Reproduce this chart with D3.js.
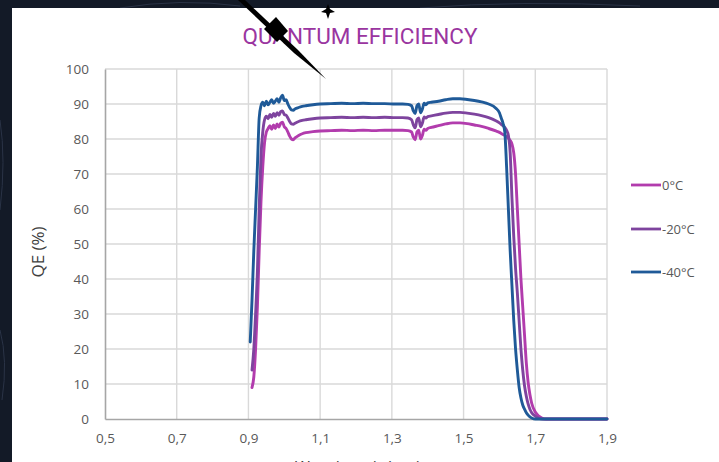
<!DOCTYPE html>
<html>
<head>
<meta charset="utf-8">
<script src="https://cdn.jsdelivr.net/npm/d3@7"></script>
<style>
  html, body { margin: 0; padding: 0; background: #131a27; }
  svg { display: block; }
</style>
</head>
<body>
<svg id="chart" width="719" height="462"></svg>
<script>
// Wavelength grid (µm)
const wavelength = [
  0.905, 0.91, 0.915, 0.92, 0.925, 0.93, 0.935, 0.94, 0.945, 0.95,
  0.955, 0.96, 0.965, 0.97, 0.975, 0.98, 0.985, 0.99, 0.995, 1.0,
  1.005, 1.01, 1.015, 1.02, 1.025, 1.03, 1.04, 1.05, 1.06, 1.08,
  1.10, 1.13, 1.16, 1.19, 1.22, 1.25, 1.28, 1.31, 1.33, 1.345,
  1.355, 1.36, 1.365, 1.37, 1.375, 1.38, 1.385, 1.39, 1.395, 1.40,
  1.41, 1.43, 1.45, 1.47, 1.49, 1.51, 1.53, 1.55, 1.57, 1.59,
  1.60, 1.605, 1.61, 1.615, 1.62, 1.625, 1.63, 1.635, 1.64, 1.645,
  1.65, 1.655, 1.66, 1.665, 1.67, 1.675, 1.68, 1.685, 1.69, 1.70,
  1.71, 1.72, 1.73, 1.75, 1.80, 1.85, 1.90
];

// QE (%) at 0 °C
const qe0 = [
  null, 9, 12, 20, 32, 48, 62, 72, 79, 82,
  83, 83.8, 82.8, 84, 83, 84.3, 83.4, 84.5, 84.8, 83.5,
  83, 82, 80.8, 80, 79.8, 80.3, 81, 81.5, 81.8, 82.1,
  82.3, 82.4, 82.5, 82.4, 82.5, 82.4, 82.5, 82.5, 82.5, 82.4,
  82, 80.5, 79.8, 82, 82.5, 80, 81, 82.8, 82.5, 83,
  83.3, 83.8, 84.3, 84.6, 84.6, 84.4, 84, 83.6, 83, 82.3,
  81.9, 81.6, 81.3, 81, 80.6, 80.2, 79.6, 78.5, 76, 70,
  60, 50, 40, 32, 24, 16, 10.5, 7, 4.5, 2,
  0.8, 0.2, 0, 0, 0, 0, 0
];

// QE (%) at -20 °C
const qe20 = [
  null, 14, 20, 30, 42, 60, 75, 82, 85.5, 86.5,
  85.8, 87, 86.2, 87.3, 86.5, 87.5, 86.8, 87.8, 88, 87,
  86.8, 86, 85, 84.3, 84.2, 84.5, 85, 85.3, 85.5, 85.8,
  86, 86.1, 86.2, 86.1, 86.2, 86.1, 86.2, 86.1, 86.1, 86,
  85.5, 84, 83.2, 85.5, 86, 83.5, 84.5, 86.3, 86, 86.4,
  86.6, 87, 87.4, 87.6, 87.6, 87.4, 87.1, 86.7, 86.1, 85.2,
  84.6, 84.2, 83.8, 83.3, 82.5, 81, 76, 63, 52, 43,
  36, 28, 20, 14, 9.5, 6.5, 4.3, 2.8, 1.8, 0.8,
  0.2, 0, 0, 0, 0, 0, 0
];

// QE (%) at -40 °C
const qe40 = [
  22, 34, 48, 60, 72, 86, 89.5, 90.5, 89.5, 90.8,
  89.8, 90.5, 91.2, 90.2, 90.8, 91.5, 90.5, 91.8, 92.5, 91,
  91.2, 90, 89, 88.3, 88.2, 88.6, 89, 89.3, 89.5, 89.8,
  90, 90.1, 90.2, 90.1, 90.2, 90.1, 90.1, 90, 90, 89.9,
  89.5, 88, 87.3, 89.5, 90, 87.5, 88.5, 90.2, 89.8, 90.3,
  90.5, 90.8, 91.2, 91.5, 91.5, 91.3, 91, 90.6, 90, 88.8,
  87.5, 86, 84.5, 82, 72, 60, 48, 38, 28, 20,
  14, 9, 6, 4, 2.8, 1.8, 1.1, 0.6, 0.3, 0,
  0, 0, 0, 0, 0, 0, 0
];

const seriesNames = ["0°C", "-20°C", "-40°C"];
const seriesColors = ["#b23cad", "#7e449e", "#1f5a98"];
const seriesValues = [qe0, qe20, qe40];

const xTicks = [0.5, 0.7, 0.9, 1.1, 1.3, 1.5, 1.7, 1.9];
const yTicks = [0, 10, 20, 30, 40, 50, 60, 70, 80, 90, 100];

const svg = d3.select("#chart");
const W = 719, H = 462;

// dark backdrop with a few faint streaks
svg.append("rect").attr("width", W).attr("height", H).attr("fill", "#131a27");
const streaks = svg.append("g").attr("fill", "none").attr("stroke", "#2a3346").attr("stroke-width", 1);
streaks.append("path").attr("d", "M0,120 Q6,160 0,210");
streaks.append("path").attr("d", "M0,330 Q8,360 2,400");
streaks.append("path").attr("d", "M120,8 Q180,-2 240,6");
streaks.append("path").attr("d", "M420,8 Q520,0 640,6");

// white chart panel
svg.append("rect")
  .attr("x", 12).attr("y", 8)
  .attr("width", W - 12).attr("height", H - 8)
  .attr("fill", "#ffffff");

const plot = { left: 105, right: 607, top: 69, bottom: 419 };

const x = d3.scaleLinear().domain([0.5, 1.9]).range([plot.left, plot.right]);
const y = d3.scaleLinear().domain([0, 100]).range([plot.bottom, plot.top]);

// gridlines
const grid = svg.append("g").attr("stroke", "#d9d9d9").attr("stroke-width", 1.4);
grid.selectAll(".gy").data(yTicks.filter(d => d > 0)).join("line")
  .attr("x1", plot.left).attr("x2", plot.right)
  .attr("y1", d => y(d)).attr("y2", d => y(d));
grid.selectAll(".gx").data(xTicks.filter(d => d > 0.5)).join("line")
  .attr("y1", plot.top).attr("y2", plot.bottom)
  .attr("x1", d => x(d)).attr("x2", d => x(d));

// axes
const xAxis = d3.axisBottom(x).tickValues(xTicks).tickSize(0).tickPadding(14)
  .tickFormat(d => d3.format(".1f")(d).replace(".", ","));
const yAxis = d3.axisLeft(y).tickValues(yTicks).tickSize(0).tickPadding(16);

const gx = svg.append("g").attr("transform", `translate(0,${plot.bottom})`).call(xAxis);
const gy = svg.append("g").attr("transform", `translate(${plot.left},0)`).call(yAxis);
[gx, gy].forEach(g => {
  g.select(".domain").attr("stroke", "#a6a6a6").attr("stroke-width", 1.6);
  g.selectAll("text")
    .attr("fill", "#595959")
    .attr("font-family", "'Open Sans', sans-serif")
    .attr("font-size", 13.5);
});

// series lines
const line = d3.line()
  .defined(d => d[1] !== null)
  .x(d => x(d[0]))
  .y(d => y(d[1]))
  .curve(d3.curveMonotoneX);

const linesG = svg.append("g").attr("fill", "none")
  .attr("stroke-width", 2.9).attr("stroke-linejoin", "round").attr("stroke-linecap", "round");
seriesValues.forEach((vals, i) => {
  linesG.append("path")
    .attr("d", line(wavelength.map((w, j) => [w, vals[j]])))
    .attr("stroke", seriesColors[i]);
});

// title
svg.append("text")
  .attr("x", 360).attr("y", 44)
  .attr("text-anchor", "middle")
  .attr("font-family", "Roboto, sans-serif")
  .attr("font-size", 22.5)
  .attr("fill", "#9a35a0")
  .text("QUANTUM EFFICIENCY");

// y axis title
svg.append("text")
  .attr("transform", "translate(44,252) rotate(-90)")
  .attr("text-anchor", "middle")
  .attr("font-family", "'Open Sans', sans-serif")
  .attr("font-size", 17)
  .attr("fill", "#404040")
  .text("QE (%)");

// x axis title (runs off the lower edge)
svg.append("text")
  .attr("x", 358).attr("y", 473)
  .attr("text-anchor", "middle")
  .attr("font-family", "'Open Sans', sans-serif")
  .attr("font-size", 16)
  .attr("fill", "#404040")
  .text("Wavelength (µm)");

// legend
const legendY = [185, 229, 272];
const legend = svg.append("g");
seriesNames.forEach((name, i) => {
  legend.append("line")
    .attr("x1", 631).attr("x2", 661)
    .attr("y1", legendY[i]).attr("y2", legendY[i])
    .attr("stroke", seriesColors[i]).attr("stroke-width", 2.8);
  legend.append("text")
    .attr("x", 662).attr("y", legendY[i] + 4.5)
    .attr("font-family", "'Open Sans', sans-serif")
    .attr("font-size", 13)
    .attr("fill", "#595959")
    .text(name);
});

// black sparkle ornament over the heading
const orn = svg.append("g").attr("fill", "#000");
orn.append("path").attr("d", "M238,0 L245,0 L298,50 L326,79 L294,53 Z");
orn.append("path").attr("d", "M276,17 L288,31 L277,42 L264,29 Z");
orn.append("path").attr("d", "M328,4 L330,9 L335,12 L330,13 L328,19 L326,13 L321,12 L326,9 Z");
</script>
</body>
</html>
